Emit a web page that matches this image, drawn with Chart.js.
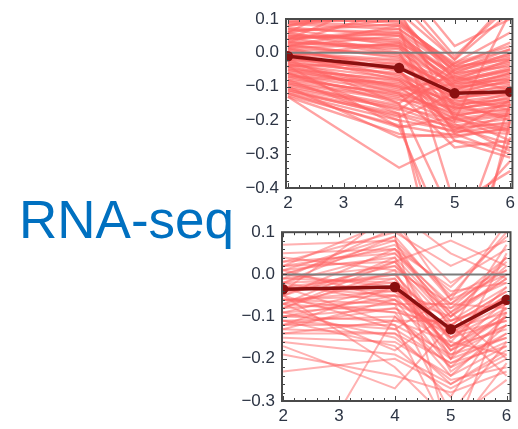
<!DOCTYPE html>
<html>
<head>
<meta charset="utf-8">
<script src="https://cdn.jsdelivr.net/npm/chart.js@4"></script>
<style>
  body { margin: 0; background: #fff; overflow: hidden; width: 518px; height: 429px; position: relative; }
  canvas { position: absolute; }
  #label { position: absolute; left: 19px; top: 193px; font: 53px "Liberation Sans", Arial, sans-serif; line-height: 53px; color: #0070c0; white-space: nowrap; }
</style>
</head>
<body>
<div id="label">RNA-seq</div>
<canvas id="top" width="280" height="215" style="left:240px;top:0px"></canvas>
<canvas id="bottom" width="282" height="213" style="left:236px;top:215px"></canvas>
<script>
// time points on the x axis
const timePoints = [2, 4, 5, 6];
const xTicks = [2, 3, 4, 5, 6];
const yTicksTop = [0.1, 0, -0.1, -0.2, -0.3, -0.4];
const yTicksBottom = [0.1, 0, -0.1, -0.2, -0.3];

// mean profiles (dark red)
const meanTop = [-0.01, -0.045, -0.12, -0.115];
const meanBottom = [-0.035, -0.03, -0.13, -0.06];

// individual gene profiles (pink), values at 2, 4, 5, 6
const genesTop = [
  [0.09, 0.08, -0.03, 0.02], [0.08, 0.12, -0.02, 0.12], [0.07, 0.06, -0.05, -0.01],
  [0.10, 0.09, -0.04, 0.03], [0.06, 0.10, -0.06, 0.00], [0.05, 0.04, -0.07, -0.03],
  [0.04, 0.07, -0.04, -0.02], [0.03, 0.02, -0.08, -0.05], [0.02, 0.05, -0.10, -0.06],
  [0.01, 0.00, -0.09, -0.08], [0.00, -0.02, -0.11, -0.07], [-0.01, 0.03, -0.06, -0.04],
  [-0.02, -0.04, -0.12, -0.10], [-0.03, -0.06, -0.13, -0.12], [-0.04, -0.03, -0.10, -0.09],
  [-0.05, -0.08, -0.15, -0.14], [-0.06, -0.10, -0.14, -0.16], [-0.07, -0.09, -0.17, -0.13],
  [-0.08, -0.12, -0.18, -0.17], [-0.09, -0.14, -0.16, -0.19], [-0.10, -0.16, -0.20, -0.18],
  [-0.11, -0.18, -0.22, -0.21], [-0.12, -0.20, -0.23, -0.24], [-0.13, -0.24, -0.25, -0.22],
  [-0.12, -0.22, -0.19, -0.26], [-0.10, -0.25, -0.24, -0.30], [-0.13, -0.34, -0.26, -0.28],
  [-0.08, -0.20, -0.70, -0.25], [-0.06, -0.18, -0.85, -0.20], [-0.04, -0.22, -0.60, -0.15],
  [-0.02, -0.15, -0.50, -0.32], [0.04, 0.18, -0.01, 0.14], [0.06, 0.22, 0.02, 0.10],
  [0.08, 0.15, -0.02, 0.16], [0.01, -0.05, -0.26, -0.31], [-0.03, -0.10, -0.21, -0.29],
  [0.00, -0.07, -0.18, -0.23], [0.02, -0.01, -0.15, -0.20], [0.03, 0.01, -0.13, -0.17],
  [-0.05, -0.11, -0.07, -0.11], [-0.07, -0.13, -0.09, -0.05], [0.05, 0.03, -0.16, -0.12],
  [0.07, 0.02, -0.19, -0.15], [-0.09, -0.17, -0.05, 0.01], [-0.11, -0.19, -0.12, -0.08],
  [0.09, 0.11, -0.08, -0.02], [-0.01, -0.08, -0.22, -0.27], [0.06, 0.00, -0.24, -0.18],
  [-0.04, -0.12, -0.28, -0.26], [0.02, 0.08, -0.45, -0.35], [-0.06, -0.15, -0.03, 0.06],
  [0.03, 0.13, -0.20, 0.12], [-0.02, -0.05, -0.23, -0.14], [0.04, 0.06, -0.11, -0.06],
  [0.085, 0.07, -0.045, -0.005], [0.075, 0.05, -0.065, -0.025], [0.065, 0.085, -0.035, 0.01],
  [0.055, 0.035, -0.085, -0.045], [0.045, 0.055, -0.075, -0.035], [0.035, 0.015, -0.095, -0.065],
  [0.025, -0.015, -0.115, -0.085], [0.015, 0.025, -0.105, -0.075], [0.005, -0.035, -0.125, -0.095],
  [-0.015, -0.045, -0.135, -0.115], [-0.025, -0.065, -0.145, -0.125], [-0.035, -0.075, -0.155, -0.135],
  [-0.045, -0.085, -0.165, -0.145], [-0.055, -0.095, -0.175, -0.155], [-0.065, -0.115, -0.185, -0.165],
  [-0.075, -0.125, -0.195, -0.175], [-0.085, -0.135, -0.205, -0.185], [-0.095, -0.155, -0.215, -0.195],
  [-0.105, -0.165, -0.225, -0.205], [-0.115, -0.185, -0.235, -0.215], [-0.125, -0.215, -0.245, -0.225],
  [0.095, 0.095, -0.055, -0.015], [-0.005, -0.025, -0.085, -0.055], [0.045, -0.005, -0.135, -0.105],
  [-0.035, -0.105, -0.195, -0.235], [0.015, -0.055, -0.165, -0.145]
];
const genesBottom = [
  [0.07, 0.08, -0.05, 0.10], [0.03, 0.10, 0.02, 0.08], [0.02, 0.06, -0.08, 0.03],
  [0.01, 0.04, -0.10, 0.00], [0.00, 0.07, -0.04, -0.02], [-0.01, 0.02, -0.12, -0.04],
  [-0.02, 0.05, -0.09, 0.02], [-0.03, 0.00, -0.14, -0.05], [-0.04, -0.02, -0.11, -0.07],
  [-0.05, 0.03, -0.16, -0.03], [-0.06, -0.04, -0.13, -0.09], [-0.07, -0.01, -0.18, -0.06],
  [-0.08, -0.06, -0.15, -0.11], [-0.09, -0.03, -0.20, -0.08], [-0.10, -0.08, -0.17, -0.13],
  [-0.11, -0.10, -0.22, -0.10], [-0.12, -0.12, -0.19, -0.15], [-0.13, -0.14, -0.21, -0.17],
  [-0.15, -0.16, -0.24, -0.12], [-0.16, -0.19, -0.26, -0.18], [-0.23, -0.20, -0.27, -0.20],
  [-0.17, -0.27, -0.12, -0.24], [-0.05, -0.22, -0.35, -0.25], [0.01, 0.09, -0.40, -0.06],
  [-0.02, -0.07, -0.33, -0.16], [0.02, 0.13, -0.06, 0.12], [-0.04, 0.15, 0.05, -0.01],
  [-0.01, 0.11, -0.02, 0.06], [0.04, 0.01, -0.07, 0.04], [-0.03, -0.05, -0.10, -0.01],
  [-0.06, -0.09, -0.12, -0.04], [-0.08, 0.01, -0.23, -0.14], [-0.10, -0.05, -0.08, -0.02],
  [-0.12, -0.08, -0.14, -0.07], [-0.14, -0.11, -0.16, -0.19], [0.00, -0.03, -0.17, -0.10],
  [-0.05, -0.13, -0.05, 0.01], [-0.07, 0.04, -0.20, 0.05], [-0.09, -0.15, -0.25, -0.22],
  [-0.11, -0.17, -0.29, -0.09], [0.05, 0.06, -0.03, 0.09], [-0.02, -0.01, -0.18, -0.12],
  [-0.04, 0.00, -0.15, -0.05], [-0.06, -0.07, -0.07, -0.08], [-0.13, -0.06, -0.22, -0.16],
  [-0.03, -0.12, -0.38, -0.21], [-0.08, 0.03, 0.08, 0.02], [-0.19, -0.24, -0.28, -0.23],
  [0.00, 0.08, -0.13, 0.07], [-0.07, -0.18, -0.09, -0.20], [-0.55, -0.10, -0.20, -0.15],
  [0.02, 0.03, -0.11, -0.03], [-0.01, -0.02, -0.15, -0.08], [-0.04, 0.02, -0.09, -0.01],
  [-0.06, -0.05, -0.19, -0.12], [-0.09, -0.07, -0.13, -0.05], [-0.11, -0.13, -0.21, -0.14],
  [0.03, 0.05, -0.07, 0.01], [-0.03, -0.04, -0.17, -0.09], [-0.07, -0.09, -0.24, -0.17],
  [-0.10, -0.11, -0.11, -0.06], [0.01, -0.06, -0.14, -0.11], [-0.05, 0.06, -0.10, 0.04],
  [-0.12, -0.03, -0.18, -0.10], [-0.02, 0.09, -0.06, 0.00], [-0.14, -0.14, -0.26, -0.19]
];

const FONT = '"Liberation Sans", Arial, sans-serif';

function fmt(v) {
  if (Math.abs(v) < 1e-9) return '0.0';
  return v.toFixed(1).replace('-', '\u2212');
}

// frame with inward major/minor ticks, Mathematica style
const framePlugin = {
  id: 'frame',
  afterDraw(chart) {
    const { ctx, chartArea: a, scales } = chart;
    const x = scales.x, y = scales.y;
    ctx.save();
    ctx.strokeStyle = '#444';
    ctx.lineWidth = 1;
    for (let v = Math.ceil(x.min * 5) / 5; v <= x.max + 1e-9; v += 0.2) {
      const px = Math.round(x.getPixelForValue(v)) + 0.5;
      const len = Math.abs(v - Math.round(v)) < 1e-6 ? 5 : 3;
      ctx.beginPath();
      ctx.moveTo(px, a.bottom); ctx.lineTo(px, a.bottom - len);
      ctx.moveTo(px, a.top); ctx.lineTo(px, a.top + len);
      ctx.stroke();
    }
    for (let v = Math.ceil(y.min * 50) / 50; v <= y.max + 1e-9; v += 0.02) {
      const py = Math.round(y.getPixelForValue(v)) + 0.5;
      const len = Math.abs(v * 10 - Math.round(v * 10)) < 1e-6 ? 5 : 3;
      ctx.beginPath();
      ctx.moveTo(a.left, py); ctx.lineTo(a.left + len, py);
      ctx.moveTo(a.right, py); ctx.lineTo(a.right - len, py);
      ctx.stroke();
    }
    ctx.lineWidth = 2;
    ctx.strokeStyle = '#4a4a4a';
    ctx.strokeRect(a.left, a.top, a.right - a.left, a.bottom - a.top);
    ctx.restore();
  }
};

function buildPanel(id, genes, mean, yTicks, yMin, yMax, xMin, xMax, pad, alpha, lw) {
  const datasets = genes.map(g => ({
    data: timePoints.map((t, i) => ({ x: t, y: g[i] })),
    borderColor: 'rgba(255,100,100,' + alpha + ')',
    borderWidth: lw,
    pointRadius: 0,
    order: 2
  }));
  datasets.push({
    data: [{ x: xMin, y: 0 }, { x: xMax, y: 0 }],
    borderColor: '#7d7d7d',
    borderWidth: 2,
    pointRadius: 0,
    order: 1
  });
  datasets.push({
    data: timePoints.map((t, i) => ({ x: t, y: mean[i] })),
    borderColor: '#8b1010',
    backgroundColor: '#8b1010',
    borderWidth: 3.5,
    pointRadius: 3.5,
    order: 0
  });

  new Chart(document.getElementById(id).getContext('2d'), {
    type: 'line',
    data: { datasets },
    options: {
      responsive: false,
      animation: false,
      layout: { padding: pad },
      plugins: { legend: { display: false }, tooltip: { enabled: false } },
      scales: {
        x: {
          type: 'linear', min: xMin, max: xMax,
          grid: { display: false, drawTicks: false },
          border: { display: false },
          afterBuildTicks: s => { s.ticks = xTicks.map(v => ({ value: v })); },
          afterFit: s => { s.height = 27; },
          ticks: { color: '#2c3444', padding: 5, maxRotation: 0, font: { family: FONT, size: 17 } }
        },
        y: {
          min: yMin, max: yMax,
          grid: { display: false, drawTicks: false },
          border: { display: false },
          afterBuildTicks: s => { s.ticks = yTicks.map(v => ({ value: v })); },
          afterFit: s => { s.width = 46; },
          ticks: { color: '#2c3444', padding: 7, font: { family: FONT, size: 17 }, callback: v => fmt(v) }
        }
      }
    },
    plugins: [framePlugin]
  });
}

buildPanel('top', genesTop, meanTop, yTicksTop, -0.4, 0.1, 1.965, 6.04, { top: 19, right: 1, left: 0, bottom: 0 }, 0.6, 2.4);
buildPanel('bottom', genesBottom, meanBottom, yTicksBottom, -0.3, 0.1, 1.98, 6.07, { top: 15, right: 2, left: 0, bottom: 0 }, 0.5, 2);
</script>
</body>
</html>
